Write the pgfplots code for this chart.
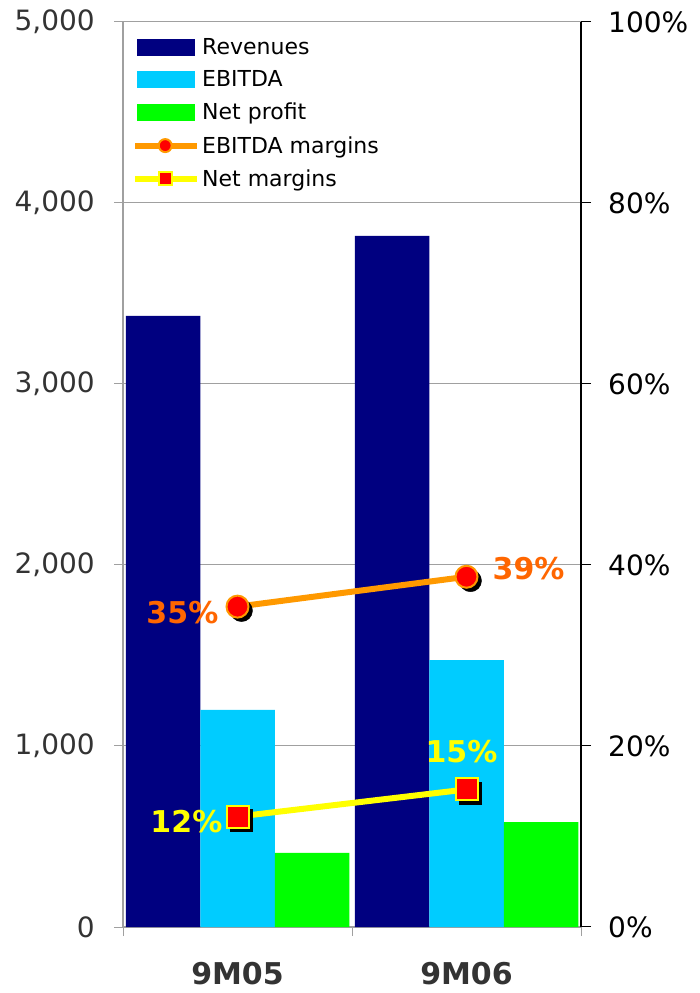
\documentclass[border=0pt]{standalone}
\usepackage{pgfplots}
\pgfplotsset{compat=1.18}
\usepackage{fontspec}
\setmainfont{DejaVu Sans}
\definecolor{cnavy}{HTML}{000080}
\definecolor{ccyan}{HTML}{00CCFF}
\definecolor{cgreen}{HTML}{00FF00}
\definecolor{corange}{HTML}{FF9900}
\definecolor{clabel}{HTML}{FF6600}
\definecolor{cyellow}{HTML}{FFFF00}
\definecolor{cred}{HTML}{FF0000}
\definecolor{cgrid}{HTML}{A0A0A0}
\definecolor{ctext}{HTML}{333333}
\begin{document}
\begin{tikzpicture}[x=1pt,y=1pt]
\path[use as bounding box] (0,0) rectangle (700,993);
\begin{axis}[
  at={(123pt,66pt)}, anchor=south west,
  scale only axis, width=458pt, height=905pt,
  xmin=-0.5, xmax=1.5, ymin=0, ymax=5000,
  axis x line*=bottom, axis y line*=left,
  ybar=0pt, bar width=74.5pt,
  xtick={-0.5,0.5,1.5}, xticklabels={},
  extra x ticks={0,1}, extra x tick labels={9M05,9M06},
  extra x tick style={major tick length=0pt, xticklabel style={anchor=north, inner sep=0pt, yshift=-35pt, font=\fontsize{30}{32}\selectfont\bfseries, text=ctext}},
  ytick={0,1000,...,5000},
  ymajorgrids, grid style={cgrid, line width=1pt},
  axis line style={cgrid, line width=1.5pt},
  tick style={cgrid, line width=1pt},
  tick align=outside, major tick length=9pt,
  /pgf/number format/assume math mode=true,
  /pgf/number format/1000 sep={,},
  yticklabel style={anchor=east, inner sep=0pt, xshift=-19pt, font=\fontsize{28}{30}\selectfont, text=ctext},
]
\addplot[fill=cnavy, draw=none] coordinates {(0,3376) (1,3818)};
\addplot[fill=ccyan, draw=none] coordinates {(0,1199) (1,1475)};
\addplot[fill=cgreen, draw=none] coordinates {(0,409) (1,580)};
\end{axis}
\begin{axis}[
  at={(123pt,66pt)}, anchor=south west,
  scale only axis, width=458pt, height=905pt,
  xmin=-0.5, xmax=1.5, ymin=0, ymax=100,
  axis y line*=right, axis x line=none,
  ytick={0,20,...,100},
  yticklabel={\pgfmathprintnumber{\tick}\%},
  axis line style={black, line width=1.2pt},
  tick style={black, line width=1pt},
  tick align=outside, major tick length=10pt,
  /pgf/number format/assume math mode=true,
  yticklabel style={anchor=west, inner sep=0pt, xshift=17pt, font=\fontsize{28}{30}\selectfont, text=black},
  legend style={draw=none, fill=none, at={(0,1)}, anchor=north west, xshift=7pt, yshift=-12pt,
    font=\fontsize{22}{24}\selectfont, row sep=11pt, inner sep=2pt,
    /tikz/every even column/.append style={column sep=1pt}},
  legend cell align=left,
]
\addlegendimage{legend image code/.code={\fill[cnavy] (0pt,-8pt) rectangle (57pt,8pt);}}
\addlegendentry{Revenues}
\addlegendimage{legend image code/.code={\fill[ccyan] (0pt,-8pt) rectangle (57pt,8pt);}}
\addlegendentry{EBITDA}
\addlegendimage{legend image code/.code={\fill[cgreen] (0pt,-8pt) rectangle (57pt,8pt);}}
\addlegendentry{Net profit}
% EBITDA margins
\addplot[only marks, mark=*, mark size=11pt, black, forget plot, mark options={xshift=4pt, yshift=-4pt}] coordinates {(0,35.4) (1,38.7)};
\addplot[corange, line width=6pt, mark=*, mark size=11pt, mark options={fill=cred, draw=corange, line width=2pt},
  legend image code/.code={\draw[mark repeat=2, mark phase=2, mark size=6.5pt] plot coordinates {(-2pt,0pt) (28pt,0pt) (60pt,0pt)};}]
  coordinates {(0,35.4) (1,38.7)};
\addlegendentry{EBITDA margins}
% Net margins
\addplot[only marks, mark=square*, mark size=11pt, black, forget plot, mark options={xshift=4pt, yshift=-4pt}] coordinates {(0,12.2) (1,15.2)};
\addplot[cyellow, line width=6pt, mark=square*, mark size=11pt, mark options={fill=cred, draw=cyellow, line width=2pt},
  legend image code/.code={\draw[mark repeat=2, mark phase=2, mark size=6.5pt] plot coordinates {(-2pt,0pt) (28pt,0pt) (60pt,0pt)};}]
  coordinates {(0,12.2) (1,15.2)};
\addlegendentry{Net margins}
\node[anchor=east, inner sep=0pt, text=clabel, font=\fontsize{30}{32}\selectfont\bfseries, xshift=-19pt, yshift=-6pt] at (axis cs:0,35.4) {35\%};
\node[anchor=west, inner sep=0pt, text=clabel, font=\fontsize{30}{32}\selectfont\bfseries, xshift=26pt, yshift=8pt] at (axis cs:1,38.7) {39\%};
\node[anchor=east, inner sep=0pt, text=cyellow, font=\fontsize{30}{32}\selectfont\bfseries, xshift=-15pt, yshift=-5pt] at (axis cs:0,12.2) {12\%};
\node[anchor=center, inner sep=0pt, text=cyellow, font=\fontsize{30}{32}\selectfont\bfseries, xshift=-5pt, yshift=38pt] at (axis cs:1,15.2) {15\%};
\end{axis}
\end{tikzpicture}
\end{document}
